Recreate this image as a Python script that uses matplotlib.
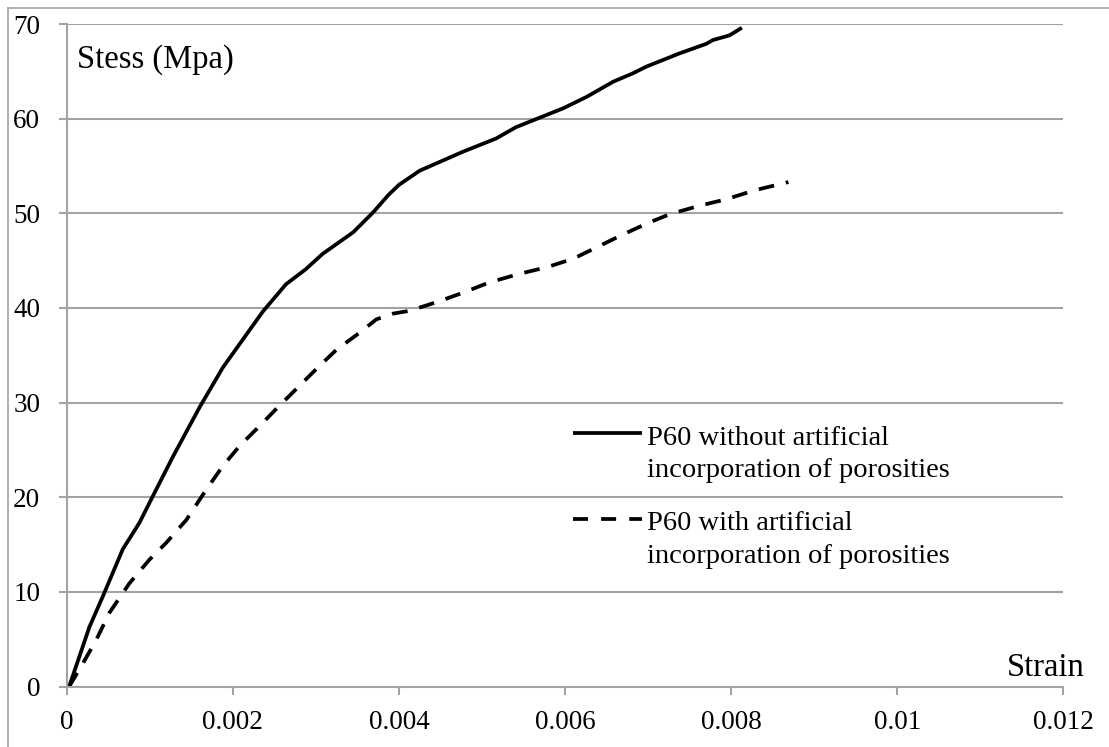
import matplotlib
matplotlib.use("Agg")
import matplotlib.pyplot as plt
from matplotlib.lines import Line2D

# ---- data ----
strain_without = [0.00003, 0.000274, 0.000434, 0.000675, 0.000876, 0.000996, 0.00128, 0.0016,
                  0.00188, 0.00236, 0.00264, 0.00288, 0.00308, 0.00345, 0.00369, 0.00387,
                  0.00400, 0.00425, 0.00477, 0.00517, 0.00541, 0.00598, 0.00626, 0.00658,
                  0.00682, 0.00698, 0.00738, 0.00770, 0.00778, 0.00798, 0.00813]
stress_without = [0.0, 6.3, 9.5, 14.5, 17.3, 19.4, 24.3, 29.5,
                  33.7, 39.6, 42.5, 44.1, 45.7, 48.0, 50.1, 51.9,
                  53.0, 54.5, 56.5, 57.9, 59.1, 61.1, 62.3, 63.9,
                  64.8, 65.5, 66.9, 67.9, 68.3, 68.8, 69.6]

strain_with = [0.00003, 0.000173, 0.000354, 0.000515, 0.000755, 0.000996, 0.0012, 0.00144,
               0.00168, 0.00188, 0.00208, 0.00232, 0.00252, 0.00276, 0.00300, 0.00325,
               0.00353, 0.00373, 0.00393, 0.00413, 0.00445, 0.00477, 0.00509, 0.00545,
               0.00578, 0.0061, 0.00638, 0.00666, 0.00698, 0.00726, 0.00762, 0.00795,
               0.00827, 0.00869]
stress_with = [0.0, 2.1, 4.9, 7.8, 10.9, 13.4, 15.2, 17.6,
               20.8, 23.3, 25.4, 27.5, 29.3, 31.4, 33.5, 35.6,
               37.4, 38.8, 39.4, 39.7, 40.6, 41.6, 42.7, 43.6,
               44.3, 45.2, 46.4, 47.6, 48.9, 49.9, 50.8, 51.5,
               52.4, 53.3]

x_ticks = [0, 0.002, 0.004, 0.006, 0.008, 0.01, 0.012]
x_tick_labels = ["0", "0.002", "0.004", "0.006", "0.008", "0.01", "0.012"]
y_ticks = [0, 10, 20, 30, 40, 50, 60, 70]
y_tick_labels = ["0", "10", "20", "30", "40", "50", "60", "70"]

label_without = ["P60 without artificial", "incorporation of porosities"]
label_with = ["P60 with artificial", "incorporation of porosities"]
y_title = "Stess (Mpa)"
x_title = "Strain"

# ---- style ----
FONT = "Liberation Serif"
GRID = "#a3a3a3"
plt.rcParams["font.family"] = [FONT, "DejaVu Serif"]

fig = plt.figure(figsize=(11.09, 7.47), dpi=100)
W, H = 1109, 747
ax = fig.add_axes([66.7 / W, 1 - 686.5 / H, (1063.3 - 66.7) / W, (686.5 - 24) / H])

lw = 2.7
ax.plot(strain_without, stress_without, color="black", lw=lw, solid_capstyle="butt",
        solid_joinstyle="round")
ax.plot(strain_with, stress_with, color="black", lw=lw, dashes=(4.2, 3.2),
        dash_capstyle="butt", dash_joinstyle="round")

ax.set_xlim(0, 0.012)
ax.set_ylim(0, 70)
ax.set_xticks(x_ticks)
ax.set_xticklabels(x_tick_labels)
ax.set_yticks(y_ticks)
ax.set_yticklabels(y_tick_labels)

for s in ["top", "right"]:
    ax.spines[s].set_visible(False)
for s in ["left", "bottom"]:
    ax.spines[s].set_color(GRID)
    ax.spines[s].set_linewidth(1.5)

ax.yaxis.grid(True, color=GRID, lw=1.5)
ax.set_axisbelow(True)
ax.tick_params(axis="both", colors=GRID, length=6, width=1.5, labelsize=19.5,
               labelcolor="black")
ax.tick_params(axis="y", pad=13)
ax.tick_params(axis="x", pad=11)

# axis titles inside the plot
ax.text(0.0105, 0.9335, y_title, transform=ax.transAxes, fontsize=23.5,
        ha="left", va="baseline")
ax.text(1.0214, 0.0166, x_title, transform=ax.transAxes, fontsize=23.5,
        ha="right", va="baseline", clip_on=False)

# legend drawn by hand
lx0, lx1, tx = 0.508, 0.577, 0.5825
LFS = 20.5
ax.add_line(Line2D([lx0, lx1], [0.382, 0.382], transform=ax.transAxes, color="black",
                   lw=lw, solid_capstyle="butt"))
ax.text(tx, 0.364, label_without[0], transform=ax.transAxes, fontsize=LFS, va="baseline")
ax.text(tx, 0.3157, label_without[1], transform=ax.transAxes, fontsize=LFS, va="baseline")
ax.add_line(Line2D([lx0, lx1], [0.2523, 0.2523], transform=ax.transAxes, color="black",
                   lw=lw, dashes=(4.0, 3.5), dash_capstyle="butt"))
ax.text(tx, 0.2356, label_with[0], transform=ax.transAxes, fontsize=LFS, va="baseline")
ax.text(tx, 0.186, label_with[1], transform=ax.transAxes, fontsize=LFS, va="baseline")

# outer chart border (top and left visible)
fig.add_artist(Line2D([7.5 / W, 1.0], [1 - 7.5 / H, 1 - 7.5 / H], transform=fig.transFigure,
                      color=GRID, lw=1.2))
fig.add_artist(Line2D([7.5 / W, 7.5 / W], [0.0, 1 - 7.5 / H], transform=fig.transFigure,
                      color=GRID, lw=1.2))

fig.savefig("out.png", dpi=100)
